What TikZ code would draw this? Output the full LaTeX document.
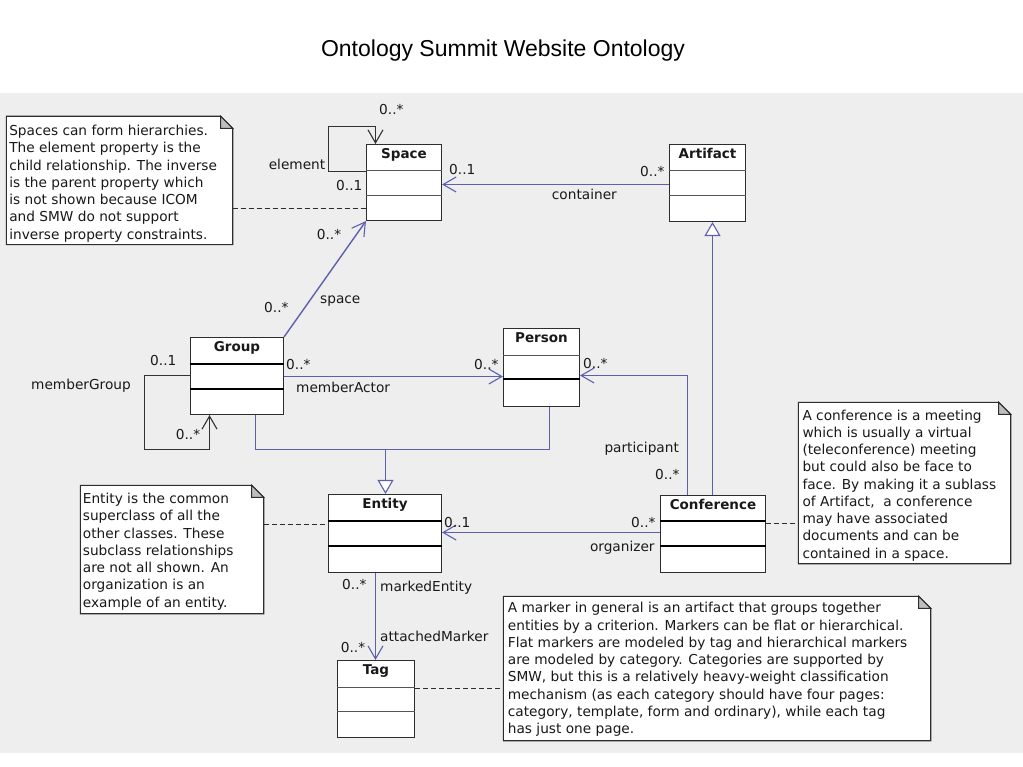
\documentclass[tikz,border=0pt]{standalone}
\usepackage{fontspec}
\setmainfont{DejaVu Sans}
\newfontfamily\titlefont{Liberation Sans}
\usetikzlibrary{arrows.meta,fit,calc}
\definecolor{bgc}{RGB}{238,238,238}
\definecolor{boxc}{RGB}{45,45,45}
\definecolor{divgray}{RGB}{85,85,85}
\definecolor{assocc}{RGB}{95,95,175}
\definecolor{loopc}{RGB}{50,50,50}
\definecolor{dashc}{RGB}{45,45,45}
\definecolor{foldc}{RGB}{190,190,190}
\definecolor{txtc}{RGB}{25,25,25}
\newcommand{\umlclass}[6]{%
  \node[cls, fit={(#3,#4) (#5,#6)}] (#1) {};
  \node[clsname] (#1-name) at ([yshift=-15pt]#1.north) {#2};
}
\newcommand{\cdiv}[3]{\draw[#3] (#1.west |- 0,#2) -- (#1.east |- 0,#2);}
\newcommand{\umlnote}[5]{%
  \node[notebox, fit={(#2,#3) (#4,#5)}] (#1) {};
  \draw[noteline] (#1.north west) -- ([xshift=-12pt]#1.north east) -- ([yshift=-12pt]#1.north east) -- (#1.south east) -- (#1.south west) -- cycle;
  \draw[fold] ([xshift=-12pt]#1.north east) -- ([xshift=-12pt,yshift=-12pt]#1.north east) -- ([yshift=-12pt]#1.north east) -- cycle;
}
\tikzset{
  cls/.style={draw=boxc, line width=1.1pt, fill=white, inner sep=0pt},
  clsname/.style={anchor=base, font=\bfseries\fontsize{13.5}{16}\selectfont, inner sep=0pt, text=txtc},
  thindiv/.style={draw=divgray, line width=1.1pt},
  thickdiv/.style={draw=black, line width=2pt},
  assoc/.style={draw=assocc, line width=1.4pt},
  openarr/.style={-{Straight Barb[length=13pt,width=15pt,line width=1.1pt]}},
  gen/.style={draw=assocc, line width=1.4pt},
  gentip/.style={-{Triangle[length=14pt,width=16pt,fill=white,line width=1.1pt]}},
  selfloop/.style={draw=loopc, line width=1.3pt},
  notedash/.style={draw=dashc, line width=1.1pt, dash pattern=on 5pt off 3pt},
  lbl/.style={anchor=base west, font=\fontsize{13.7}{16}\selectfont, inner sep=0pt, text=txtc},
  lblr/.style={anchor=base east, font=\fontsize{13.7}{16}\selectfont, inner sep=0pt, text=txtc},
  notetxt/.style={anchor=north west, align=left, inner sep=0pt, text=txtc, font=\fontsize{13.7}{17.25}\selectfont},
  notebox/.style={inner sep=0pt, draw=none},
  noteline/.style={draw=boxc, line width=1.1pt, fill=white},
  fold/.style={draw=boxc, line width=1pt, fill=foldc}
}
\begin{document}
\begin{tikzpicture}[x=1pt,y=-1pt]
\useasboundingbox (0,0) rectangle (1023,767);
\fill[white] (0,0) rectangle (1023,767);
\fill[bgc] (0,93) rectangle (1023,752.5);

\node[anchor=base, font=\titlefont\fontsize{23}{26}\selectfont, inner sep=0pt] (title) at (503,57) {Ontology Summit Website Ontology};

% notes
\umlnote{note1}{6.5}{116.5}{232.5}{244.5}
\node[notetxt] (note1-text) at (9.1,124.9) {Spaces can form hierarchies.\\The element property is the\\child relationship. The inverse\\is the parent property which\\is not shown because ICOM\\and SMW do not support\\inverse property constraints.};

\umlnote{note2}{80.5}{485.5}{263.5}{613.5}
\node[notetxt] (note2-text) at (82.7,492.9) {Entity is the common\\superclass of all the\\other classes. These\\subclass relationships\\are not all shown. An\\organization is an\\example of an entity.};

\umlnote{note3}{798.5}{402.5}{1010.5}{563.5}
\node[notetxt] (note3-text) at (802.3,409.6) {A conference is a meeting\\which is usually a virtual\\(teleconference) meeting\\but could also be face to\\face. By making it a sublass\\of Artifact,\ \ a conference\\may have associated\\documents and can be\\contained in a space.};

\umlnote{note4}{503.5}{596.5}{930.5}{740.5}
\node[notetxt] (note4-text) at (507.7,602.3) {A marker in general is an artifact that groups together\\entities by a criterion. Markers can be flat or hierarchical.\\Flat markers are modeled by tag and hierarchical markers\\are modeled by category. Categories are supported by\\SMW, but this is a relatively heavy-weight classification\\mechanism (as each category should have four pages:\\category, template, form and ordinary), while each tag\\has just one page.};

% classes
\umlclass{space}{Space}{366.5}{144.5}{441.5}{220.5}
\cdiv{space}{170.5}{thindiv}
\cdiv{space}{195.5}{thindiv}

\umlclass{artifact}{Artifact}{669.5}{144.5}{745.5}{221.5}
\cdiv{artifact}{170.5}{thindiv}
\cdiv{artifact}{195.5}{thindiv}

\umlclass{group}{Group}{190.5}{337.5}{283.5}{414.5}
\cdiv{group}{364}{thickdiv}
\cdiv{group}{389}{thickdiv}

\umlclass{person}{Person}{503.5}{328.5}{579.5}{406.5}
\cdiv{person}{355.5}{thindiv}
\cdiv{person}{379}{thickdiv}

\umlclass{entity}{Entity}{328.5}{494.5}{441.5}{572.5}
\cdiv{entity}{521}{thickdiv}
\cdiv{entity}{546}{thickdiv}

\umlclass{conference}{Conference}{660.5}{495.5}{765.5}{572.5}
\cdiv{conference}{521}{thickdiv}
\cdiv{conference}{546}{thickdiv}

\umlclass{tag}{Tag}{337.5}{660.5}{414.5}{737.5}
\cdiv{tag}{687.5}{thindiv}
\cdiv{tag}{711.5}{thindiv}

% dashed note anchors
\draw[notedash] (note1.east |- 0,208.5) -- (space.west |- 0,208.5);
\draw[notedash] (note2.east |- 0,524.5) -- (entity.west |- 0,524.5);
\draw[notedash] (conference.east |- 0,523.5) -- (note3.west |- 0,523.5);
\draw[notedash] (tag.east |- 0,688.5) -- (note4.west |- 0,688.5);

% element self association
\coordinate (el1) at (328.5,126.5);
\draw[selfloop, openarr] (space.west |- 0,171.5) -| (el1) -| (space.north -| 375.5,0);
\node[lbl] (m-el-a) at (379,115) {0..*};
\node[lblr] (l-element) at (325.5,170) {element};
\node[lbl] (m-el-b) at (336,190.5) {0..1};

% container
\draw[assoc, openarr] (artifact.west |- 0,184.5) -- (space.east |- 0,184.5);
\node[lbl] (m-co-a) at (449,175) {0..1};
\node[lbl] (m-co-b) at (640,177) {0..*};
\node[lbl] (l-container) at (551.7,200) {container};

% space association
\draw[assoc, openarr] (group.north east) -- (space.south west);
\node[lbl] (m-sp-a) at (316.7,240) {0..*};
\node[lbl] (m-sp-b) at (264,313) {0..*};
\node[lbl] (l-space) at (320,303.5) {space};

% memberGroup
\coordinate (mg1) at (144.5,449.5);
\draw[selfloop, openarr] (group.west |- 0,375.5) -| (mg1) -| (group.south -| 209.5,0);
\node[lbl] (m-mg-a) at (150,366) {0..1};
\node[lbl] (l-membergroup) at (31,389) {memberGroup};
\node[lbl] (m-mg-b) at (175.7,439) {0..*};

% memberActor
\draw[assoc, openarr] (group.east |- 0,376.5) -- (person.west |- 0,376.5);
\node[lbl] (m-ma-a) at (286,370) {0..*};
\node[lbl] (m-ma-b) at (474,370) {0..*};
\node[lbl] (l-memberactor) at (296,392) {memberActor};

% generalisations to Entity
\coordinate (gl) at (255.5,449.5);
\coordinate (gr) at (549.5,449.5);
\coordinate (gj) at (385.5,449.5);
\draw[gen] (group.south -| gl) -- (gl) -- (gr) -- (person.south -| gr);
\draw[gen, gentip] (gj) -- (entity.north -| gj);

% Conference generalisation to Artifact
\draw[gen, gentip] (conference.north -| 712.5,0) -- (artifact.south -| 712.5,0);

% participant
\draw[assoc, openarr] (conference.north -| 687.5,0) |- (person.east |- 0,375.5);
\node[lbl] (m-pa-a) at (583,368.5) {0..*};
\node[lbl] (l-participant) at (604.3,452) {participant};
\node[lbl] (m-pa-b) at (655,479) {0..*};

% organizer
\draw[assoc, openarr] (conference.west |- 0,532.5) -- (entity.east |- 0,532.5);
\node[lbl] (m-or-a) at (444,527) {0..1};
\node[lbl] (m-or-b) at (631,527) {0..*};
\node[lblr] (l-organizer) at (654.8,551.5) {organizer};

% markedEntity / attachedMarker
\draw[assoc, openarr] (entity.south -| 375.5,0) -- (tag.north -| 375.5,0);
\node[lbl] (m-me-a) at (342,589) {0..*};
\node[lbl] (l-markedentity) at (380,591.5) {markedEntity};
\node[lbl] (l-attachedmarker) at (380,641) {attachedMarker};
\node[lbl] (m-me-b) at (340.7,652) {0..*};
\end{tikzpicture}
\end{document}
